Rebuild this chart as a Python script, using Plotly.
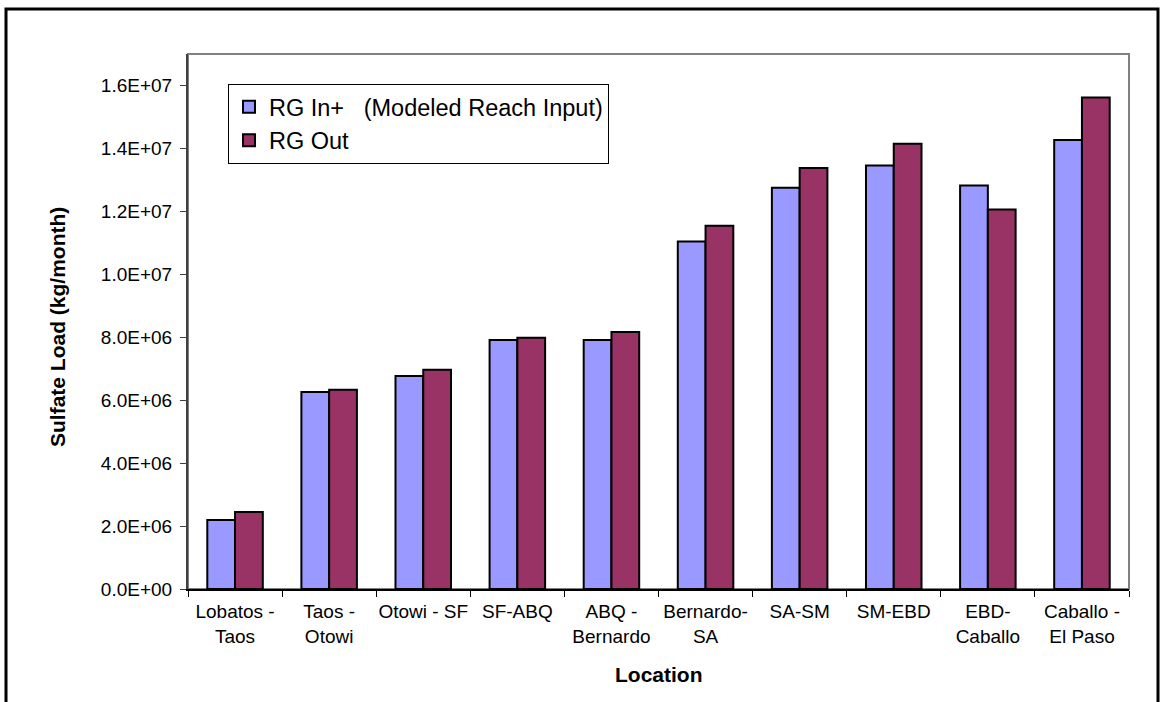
import plotly.graph_objects as go

# Reach segments along the Rio Grande
locations = [
    "Lobatos -<br>Taos", "Taos -<br>Otowi", "Otowi - SF", "SF-ABQ",
    "ABQ -<br>Bernardo", "Bernardo-<br>SA", "SA-SM", "SM-EBD",
    "EBD-<br>Caballo", "Caballo -<br>El Paso",
]

# Monthly sulfate load, kg/month
rg_in = [2.19e6, 6.26e6, 6.77e6, 7.91e6, 7.91e6, 11.04e6, 12.75e6, 13.46e6, 12.82e6, 14.27e6]
rg_out = [2.45e6, 6.33e6, 6.97e6, 7.98e6, 8.17e6, 11.54e6, 13.38e6, 14.15e6, 12.06e6, 15.62e6]

# Y axis ticks in Excel-style scientific notation
y_tickvals = [0, 2e6, 4e6, 6e6, 8e6, 10e6, 12e6, 14e6, 16e6]
y_ticktext = ["0.0E+00", "2.0E+06", "4.0E+06", "6.0E+06", "8.0E+06",
              "1.0E+07", "1.2E+07", "1.4E+07", "1.6E+07"]

FONT = "Liberation Sans, Arial, sans-serif"

# plot area in pixels: x 188..1129, y 54..589
PW, PH = 941, 535

fig = go.Figure()
fig.add_trace(go.Bar(
    x=locations, y=rg_in,
    name="RG In+&nbsp;&nbsp;&nbsp;(Modeled Reach Input)",
    marker=dict(color="#9999FF", line=dict(color="#000000", width=2)),
))
fig.add_trace(go.Bar(
    x=locations, y=rg_out,
    name="RG Out",
    marker=dict(color="#993366", line=dict(color="#000000", width=2)),
))

fig.update_layout(
    width=1160, height=702,
    margin=dict(l=188, r=31, t=54, b=113),
    paper_bgcolor="white", plot_bgcolor="white",
    barmode="group", bargap=0.41, bargroupgap=0,
    font=dict(family=FONT, size=19, color="#000000"),
    showlegend=True,
    legend=dict(
        x=0.0425, y=0.944, xanchor="left", yanchor="top",
        bgcolor="white", bordercolor="#000000", borderwidth=1,
        font=dict(family=FONT, size=23.5, color="#000000"),
        tracegroupgap=4,
    ),
    xaxis=dict(
        showgrid=False, showline=True, linecolor="#000000", linewidth=2,
        ticks="outside", tickson="boundaries", ticklen=6, tickcolor="#000000",
        tickfont=dict(family=FONT, size=19), ticklabelstandoff=4,
        tickangle=0, fixedrange=True,
    ),
    yaxis=dict(
        range=[0, 1.7e7], showgrid=False, zeroline=False,
        showline=True, linecolor="#404040", linewidth=2,
        ticks="outside", ticklen=6, tickcolor="#404040",
        tickvals=y_tickvals, ticktext=y_ticktext,
        tickfont=dict(family=FONT, size=19), ticklabelstandoff=4,
        fixedrange=True,
    ),
    shapes=[
        # plot area frame (top and right edges)
        dict(type="rect", xref="paper", yref="paper", x0=0, x1=1, y0=0, y1=1,
             line=dict(color="#808080", width=2), layer="below"),
        # outer chart border, open at the bottom edge of the page
        dict(type="rect", xref="paper", yref="paper",
             x0=(6 - 188) / PW, x1=(1158 - 188) / PW,
             y0=(589 - 720) / PH, y1=(589 - 9) / PH,
             line=dict(color="#000000", width=3)),
    ],
    annotations=[
        dict(text="<b>Location</b>", xref="paper", yref="paper",
             x=0.5, y=(589 - 674) / PH, xanchor="center", yanchor="middle",
             showarrow=False, font=dict(family=FONT, size=21)),
        dict(text="<b>Sulfate Load (kg/month)</b>", xref="paper", yref="paper",
             x=(57 - 188) / PW, y=(589 - 327) / PH, xanchor="center", yanchor="middle",
             textangle=-90, showarrow=False, font=dict(family=FONT, size=21)),
    ],
)

fig.write_html("out.html")
